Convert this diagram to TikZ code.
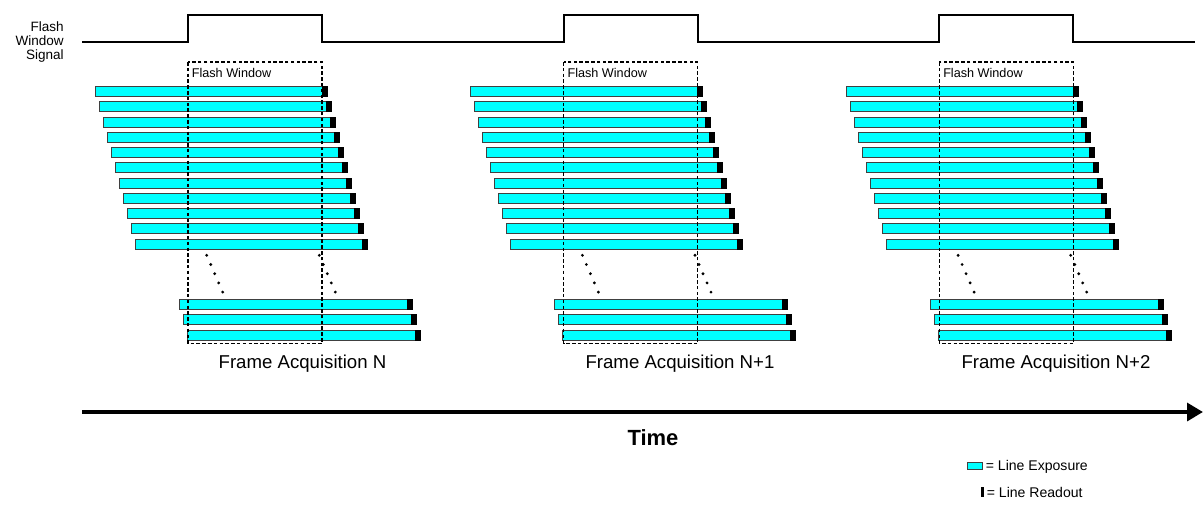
\documentclass[tikz,border=0pt]{standalone}
\usepackage{fontspec}
\setmainfont{Liberation Sans}
\usetikzlibrary{arrows.meta}
\definecolor{expcyan}{RGB}{0,255,255}
\tikzset{
    exposure/.style={draw=black!75, line width=0.5pt, fill=expcyan},
    readout/.style={draw=black, line width=0.5pt, fill=black},
    signal/.style={line width=1.2pt, line join=miter},
    window/.style={line width=0.6pt, dash pattern=on 2pt off 1.3pt},
    timearrow/.style={line width=2.3pt, -{Triangle[length=9pt,width=10pt]}},
    smalltext/.style={font=\fontsize{7.2}{8}\selectfont, inner sep=0pt},
    frametext/.style={font=\fontsize{10.6}{12}\selectfont, inner sep=0pt, anchor=base},
    legendtext/.style={font=\fontsize{8}{9}\selectfont, inner sep=0pt, anchor=base west}
}

\begin{document}
\begin{tikzpicture}[x=0.02cm, y=-0.02cm]
    \useasboundingbox (0,0) rectangle (1203,508);

    % flash window signal
    \node (sigtext) [smalltext, font=\fontsize{7.7}{7.9}\selectfont, align=right, anchor=east] at (64,42) {Flash\\Window\\Signal};
    \draw [signal] (82,42) \foreach \g in {0,1,2} {
        -- ({188+375.7*\g},42) -- ({188+375.7*\g},15) -- ({322+375.7*\g},15) -- ({322+375.7*\g},42)
    } -- (1195,42);

    % line exposures per frame
    \foreach \g/\tx/\frm in {0/302.5/N, 1/680/N+1, 2/1056/N+2} {
        \pgfmathsetmacro{\o}{375.7*\g}
        \foreach \i in {0,...,10} {
            \draw [exposure] ({95+\o+4*\i},{86.7+15.23*\i}) rectangle ++(227,10);
            \draw [readout] ({322+\o+4*\i},{86.7+15.23*\i}) rectangle ++(5,10);
        }
        \foreach \j in {0,1,2} {
            \draw [exposure] ({179+\o+4*\j},{299+15.5*\j}) rectangle ++(228,10);
            \draw [readout] ({407+\o+4*\j},{299+15.5*\j}) rectangle ++(5,10);
        }
        \foreach \k in {0,...,4} {
            \fill ({206.7+\o+4*\k},{255.3+9.2*\k}) circle [radius=0.9pt];
            \fill ({319.3+\o+4*\k},{255.3+9.2*\k}) circle [radius=0.9pt];
        }
        \draw [window] ({188+\o},62) rectangle ({322+\o},343.5);
        \node (fw\g) [smalltext, anchor=base west] at ({191.5+\o},77.3) {Flash Window};
        \node (frame\g) [frametext] at (\tx,368.3) {Frame Acquisition \frm};
    }

    % time axis
    \coordinate (t0) at (82,412);
    \coordinate (t1) at (1203,412);
    \draw [timearrow] (t0) -- (t1);
    \node (timetext) [frametext, font=\fontsize{12.5}{14}\selectfont\bfseries] at (653,445) {Time};

    % legend
    \draw [exposure] (967,462) rectangle (982,469.5);
    \node (legexp) [legendtext] at (985.5,470.7) {= Line Exposure};
    \fill (981,487.3) rectangle (984.3,497.3);
    \node (legread) [legendtext] at (986.5,497.3) {= Line Readout};
\end{tikzpicture}
\end{document}
